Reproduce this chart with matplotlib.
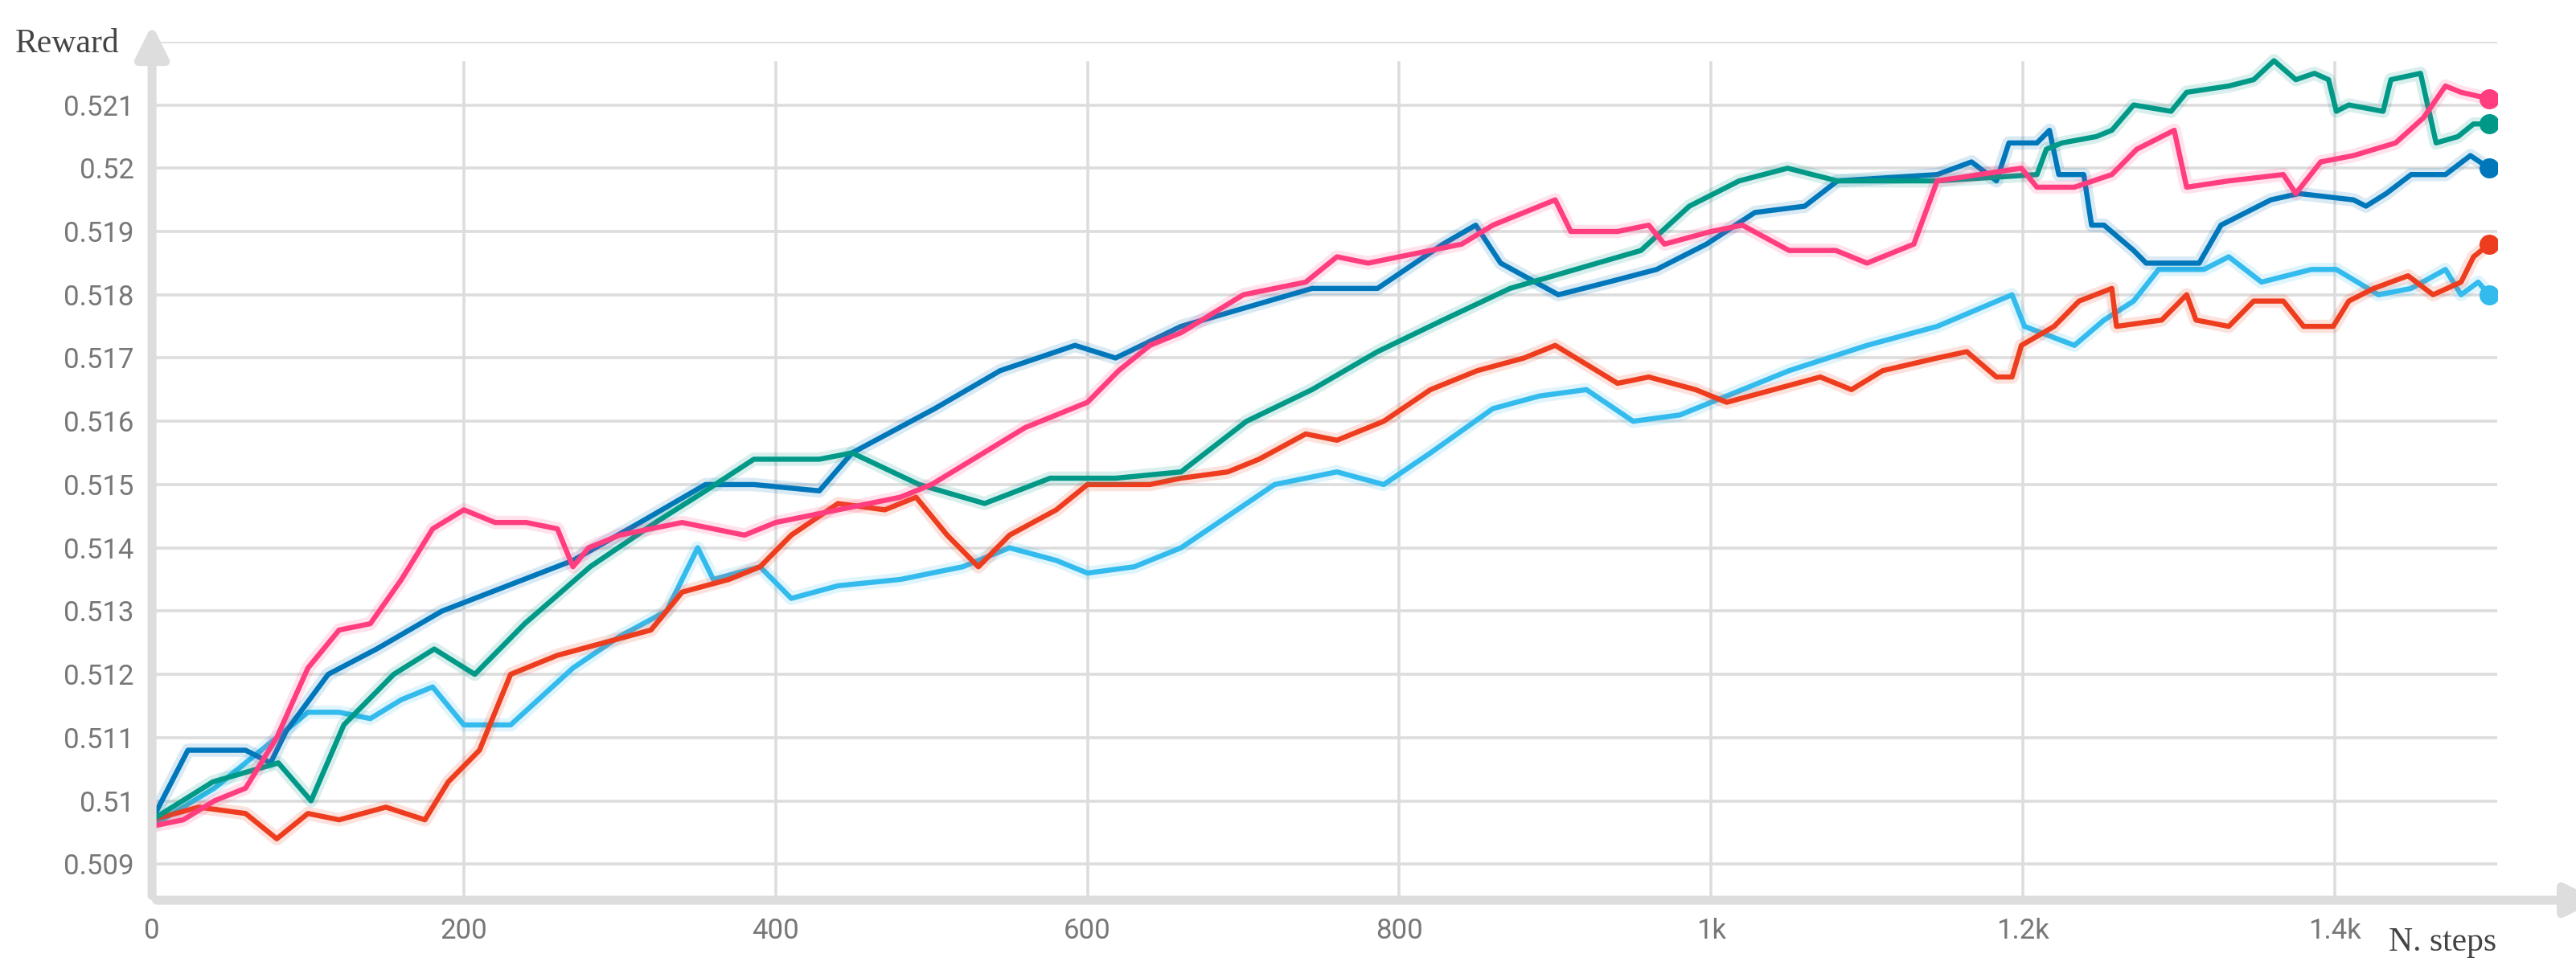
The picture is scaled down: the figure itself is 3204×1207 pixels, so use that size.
import matplotlib
matplotlib.use('Agg')
import matplotlib.pyplot as plt

# values, one (step, reward) list per run
pink_x = [0, 20, 40, 60, 80, 100, 120, 140, 160, 180, 200, 220, 240, 260, 270, 280, 300, 320, 340, 360, 380, 400, 440, 480, 500, 520, 540, 560, 600, 620, 640, 660, 680, 700, 720, 740, 760, 780, 800, 820, 840, 860, 880, 900, 910, 940, 960, 970, 1000, 1020, 1050, 1080, 1100, 1130, 1145, 1199, 1209, 1233, 1257, 1273, 1297, 1305, 1332, 1367, 1375, 1391, 1412, 1439, 1457, 1471, 1481, 1499]
pink_y = [0.5096, 0.5097, 0.5100, 0.5102, 0.5110, 0.5121, 0.5127, 0.5128, 0.5135, 0.5143, 0.5146, 0.5144, 0.5144, 0.5143, 0.5137, 0.5140, 0.5142, 0.5143, 0.5144, 0.5143, 0.5142, 0.5144, 0.5146, 0.5148, 0.5150, 0.5153, 0.5156, 0.5159, 0.5163, 0.5168, 0.5172, 0.5174, 0.5177, 0.5180, 0.5181, 0.5182, 0.5186, 0.5185, 0.5186, 0.5187, 0.5188, 0.5191, 0.5193, 0.5195, 0.5190, 0.5190, 0.5191, 0.5188, 0.5190, 0.5191, 0.5187, 0.5187, 0.5185, 0.5188, 0.5198, 0.5200, 0.5197, 0.5197, 0.5199, 0.5203, 0.5206, 0.5197, 0.5198, 0.5199, 0.5196, 0.5201, 0.5202, 0.5204, 0.5208, 0.5213, 0.5212, 0.5211]

green_x = [0, 39, 81, 102, 123, 155, 181, 207, 239, 281, 323, 355, 386, 428, 449, 492, 534, 576, 618, 660, 702, 744, 786, 828, 871, 913, 955, 986, 1018, 1049, 1081, 1145, 1209, 1215, 1225, 1247, 1257, 1271, 1295, 1305, 1332, 1348, 1361, 1375, 1387, 1396, 1401, 1409, 1431, 1436, 1455, 1465, 1479, 1489, 1499]
green_y = [0.5097, 0.5103, 0.5106, 0.5100, 0.5112, 0.5120, 0.5124, 0.5120, 0.5128, 0.5137, 0.5144, 0.5149, 0.5154, 0.5154, 0.5155, 0.5150, 0.5147, 0.5151, 0.5151, 0.5152, 0.5160, 0.5165, 0.5171, 0.5176, 0.5181, 0.5184, 0.5187, 0.5194, 0.5198, 0.5200, 0.5198, 0.5198, 0.5199, 0.5203, 0.5204, 0.5205, 0.5206, 0.5210, 0.5209, 0.5212, 0.5213, 0.5214, 0.5217, 0.5214, 0.5215, 0.5214, 0.5209, 0.5210, 0.5209, 0.5214, 0.5215, 0.5204, 0.5205, 0.5207, 0.5207]

blue_x = [0, 23, 60, 76, 86, 113, 144, 186, 228, 270, 313, 355, 386, 428, 449, 502, 544, 592, 618, 660, 702, 744, 786, 828, 849, 865, 902, 934, 965, 997, 1028, 1060, 1081, 1145, 1167, 1183, 1191, 1209, 1217, 1223, 1239, 1244, 1252, 1271, 1279, 1313, 1327, 1359, 1377, 1412, 1420, 1433, 1449, 1471, 1487, 1499]
blue_y = [0.5097, 0.5108, 0.5108, 0.5106, 0.5111, 0.5120, 0.5124, 0.5130, 0.5134, 0.5138, 0.5144, 0.5150, 0.5150, 0.5149, 0.5155, 0.5162, 0.5168, 0.5172, 0.5170, 0.5175, 0.5178, 0.5181, 0.5181, 0.5188, 0.5191, 0.5185, 0.5180, 0.5182, 0.5184, 0.5188, 0.5193, 0.5194, 0.5198, 0.5199, 0.5201, 0.5198, 0.5204, 0.5204, 0.5206, 0.5199, 0.5199, 0.5191, 0.5191, 0.5187, 0.5185, 0.5185, 0.5191, 0.5195, 0.5196, 0.5195, 0.5194, 0.5196, 0.5199, 0.5199, 0.5202, 0.5200]

red_x = [0, 30, 60, 80, 100, 120, 150, 175, 190, 210, 230, 260, 290, 320, 340, 370, 390, 410, 440, 470, 490, 510, 530, 550, 580, 600, 640, 660, 690, 710, 740, 760, 790, 820, 850, 880, 900, 940, 960, 990, 1010, 1040, 1070, 1090, 1110, 1145, 1164, 1183, 1193, 1199, 1220, 1236, 1257, 1260, 1289, 1305, 1311, 1332, 1348, 1367, 1380, 1399, 1409, 1425, 1447, 1463, 1481, 1489, 1499]
red_y = [0.5097, 0.5099, 0.5098, 0.5094, 0.5098, 0.5097, 0.5099, 0.5097, 0.5103, 0.5108, 0.5120, 0.5123, 0.5125, 0.5127, 0.5133, 0.5135, 0.5137, 0.5142, 0.5147, 0.5146, 0.5148, 0.5142, 0.5137, 0.5142, 0.5146, 0.5150, 0.5150, 0.5151, 0.5152, 0.5154, 0.5158, 0.5157, 0.5160, 0.5165, 0.5168, 0.5170, 0.5172, 0.5166, 0.5167, 0.5165, 0.5163, 0.5165, 0.5167, 0.5165, 0.5168, 0.5170, 0.5171, 0.5167, 0.5167, 0.5172, 0.5175, 0.5179, 0.5181, 0.5175, 0.5176, 0.5180, 0.5176, 0.5175, 0.5179, 0.5179, 0.5175, 0.5175, 0.5179, 0.5181, 0.5183, 0.5180, 0.5182, 0.5186, 0.5188]

cyan_x = [0, 40, 70, 100, 120, 140, 160, 180, 200, 230, 270, 300, 330, 350, 360, 390, 410, 440, 480, 520, 550, 580, 600, 630, 660, 690, 720, 760, 790, 820, 860, 890, 920, 950, 980, 1010, 1050, 1100, 1145, 1193, 1201, 1233, 1252, 1271, 1287, 1316, 1332, 1353, 1385, 1401, 1428, 1449, 1471, 1481, 1492, 1499]
cyan_y = [0.5096, 0.5102, 0.5108, 0.5114, 0.5114, 0.5113, 0.5116, 0.5118, 0.5112, 0.5112, 0.5121, 0.5126, 0.5130, 0.5140, 0.5135, 0.5137, 0.5132, 0.5134, 0.5135, 0.5137, 0.5140, 0.5138, 0.5136, 0.5137, 0.5140, 0.5145, 0.5150, 0.5152, 0.5150, 0.5155, 0.5162, 0.5164, 0.5165, 0.5160, 0.5161, 0.5164, 0.5168, 0.5172, 0.5175, 0.5180, 0.5175, 0.5172, 0.5176, 0.5179, 0.5184, 0.5184, 0.5186, 0.5182, 0.5184, 0.5184, 0.5180, 0.5181, 0.5184, 0.5180, 0.5182, 0.5180]

y_ticks = [0.509, 0.51, 0.511, 0.512, 0.513, 0.514, 0.515, 0.516, 0.517, 0.518, 0.519, 0.52, 0.521]
y_labels = ['0.509', '0.51', '0.511', '0.512', '0.513', '0.514', '0.515', '0.516', '0.517', '0.518', '0.519', '0.52', '0.521']
x_ticks = [0, 200, 400, 600, 800, 1000, 1200, 1400]
x_labels = ['0', '200', '400', '600', '800', '1k', '1.2k', '1.4k']

fig = plt.figure(figsize=(16.025, 6.035), dpi=200)
ax = fig.add_axes([0.059, 0.072, 0.910, 0.885])
ax.set_xlim(0, 1504)
ax.set_ylim(0.50843, 0.5220)

# plain grid, light grey
for yv in y_ticks + [0.522]:
    ax.axhline(yv, color='#dddddd', lw=1.3, zorder=0)
for xv in x_ticks[1:]:
    ax.plot([xv, xv], [0.50843, 0.52167], color='#dddddd', lw=1.3, zorder=0)

runs = [(cyan_x, cyan_y, '#33bbee'), (red_x, red_y, '#ee3d1e'),
        (blue_x, blue_y, '#0077bb'), (green_x, green_y, '#009988'),
        (pink_x, pink_y, '#ff3d7f')]
for xs, ys, c in runs:
    ax.plot(xs, ys, color=c, lw=6, alpha=0.15, solid_joinstyle='round')
    ax.plot(xs, ys, color=c, lw=2.3, solid_joinstyle='round')
    ax.plot(xs[-1], ys[-1], 'o', color=c, ms=8)

for s in ax.spines.values():
    s.set_visible(False)
ax.tick_params(length=0, labelsize=12.5, labelcolor='#777777', pad=8)
ax.set_yticks(y_ticks)
ax.set_yticklabels(y_labels, family='Roboto')
ax.set_xticks(x_ticks)
ax.set_xticklabels(x_labels, family='Roboto')

# axis arrows
ax.annotate('', xy=(0, 1.025), xytext=(0, 0), xycoords='axes fraction',
            arrowprops=dict(arrowstyle='-|>', color='#dddddd', lw=4, mutation_scale=30), annotation_clip=False)
ax.annotate('', xy=(1.045, 0), xytext=(0, 0), xycoords='axes fraction',
            arrowprops=dict(arrowstyle='-|>', color='#dddddd', lw=4, mutation_scale=30), annotation_clip=False)

fig.text(0.006, 0.955, 'Reward', family='Liberation Serif', fontsize=15, color='#444444', va='center')
fig.text(0.927, 0.028, 'N. steps', family='Liberation Serif', fontsize=15, color='#444444', va='center')

fig.savefig('out.png', dpi=200)
